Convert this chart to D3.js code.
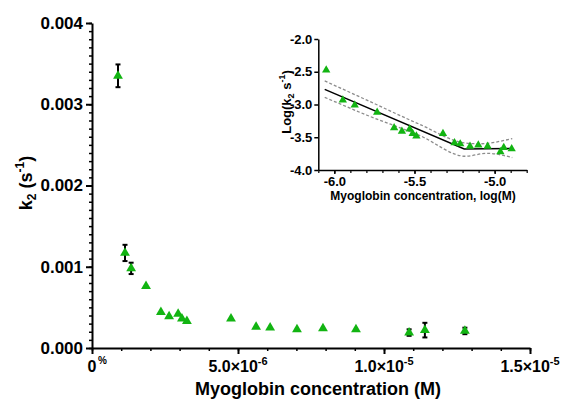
<!DOCTYPE html>
<html>
<head>
<meta charset="utf-8">
<script src="https://cdn.jsdelivr.net/npm/d3@7"></script>
<style>
  body { margin: 0; background: #fff; }
  svg { display: block; font-family: "Liberation Sans", Arial, sans-serif; font-weight: bold; }
</style>
</head>
<body>
<div id="container"></div>
<script>
// data
const concM = [0.89e-6, 1.13e-6, 1.34e-6, 1.85e-6, 2.36e-6, 2.64e-6, 2.95e-6, 3.08e-6, 3.25e-6,
               4.76e-6, 5.62e-6, 6.10e-6, 7.02e-6, 7.91e-6, 9.04e-6, 10.86e-6, 11.40e-6, 12.77e-6];
const k2 = [0.00335, 0.00117, 0.00098, 0.00076, 0.00044, 0.00039, 0.00042, 0.00036, 0.00033,
            0.00036, 0.00026, 0.00025, 0.00023, 0.00024, 0.00023, 0.00019, 0.00022, 0.00021];
const k2Err = [0.00014, 0.0001, 0.00007, 0, 0, 0, 0, 0, 0,
               0, 0, 0, 0, 0, 0, 0.00004, 0.00009, 0.00004];

const yTicks = [0, 0.001, 0.002, 0.003, 0.004];
const yTickLabels = ["0.000", "0.001", "0.002", "0.003", "0.004"];
const xTicks = [0, 5e-6, 1e-5, 1.5e-5];
const xTickLabels = [["0", "%"], ["5.0×10", "-6"], ["1.0×10", "-5"], ["1.5×10", "-5"]];

// inset: segmented fit and its confidence band (log units)
const fitX = [-6.06, -5.19, -4.89];
const fitY = [-2.77, -3.68, -3.67];
const bandUpper = [[-6.06, -2.64], [-5.8, -2.93], [-5.47, -3.30], [-5.19, -3.585], [-5.1, -3.60], [-4.89, -3.52]];
const bandLower = [[-6.06, -2.89], [-5.8, -3.16], [-5.47, -3.47], [-5.18, -3.79], [-5.05, -3.745], [-4.89, -3.81]];
const insetYTicks = [-2.0, -2.5, -3.0, -3.5, -4.0];
const insetXTicks = [-6.0, -5.5, -5.0];

const width = 564, height = 401;
const green = "#12b412";

const svg = d3.select("#container").append("svg")
  .attr("width", width).attr("height", height);

// ---- main chart ----
const x = d3.scaleLinear().domain([0, 1.5e-5]).range([92, 530]);
const y = d3.scaleLinear().domain([0, 0.004]).range([348, 23]);

const main = svg.append("g");

// y axis
const yAxis = main.append("g").attr("transform", "translate(92,0)")
  .call(d3.axisLeft(y).tickValues(d3.range(0, 41).map(i => i * 0.0001)).tickSize(3).tickFormat(""));
yAxis.call(g => g.select(".domain").remove());
yAxis.selectAll(".tick line").attr("stroke-width", 1.5);
main.append("g").attr("transform", "translate(92,0)")
  .call(d3.axisLeft(y).tickValues(yTicks).tickSize(6).tickSizeOuter(0).tickPadding(3)
    .tickFormat((d, i) => yTickLabels[i]))
  .call(g => {
    g.select(".domain").attr("stroke-width", 2);
    g.selectAll(".tick line").attr("stroke-width", 2);
    g.selectAll(".tick text").attr("font-size", 17).attr("fill", "#000").attr("font-family", null);
  });

// x axis
const xAxis = main.append("g").attr("transform", "translate(0,348)")
  .call(d3.axisBottom(x).tickValues(d3.range(0, 16).map(i => i * 1e-6)).tickSize(3).tickFormat(""));
xAxis.call(g => g.select(".domain").remove());
xAxis.selectAll(".tick line").attr("stroke-width", 1.5);
main.append("g").attr("transform", "translate(0,348)")
  .call(d3.axisBottom(x).tickValues(xTicks).tickSize(6).tickSizeOuter(0).tickFormat(""))
  .call(g => {
    g.select(".domain").attr("stroke-width", 2);
    g.selectAll(".tick line").attr("stroke-width", 2);
  });

xTicks.forEach((v, i) => {
  const t = main.append("text")
    .attr("x", x(v)).attr("y", 372)
    .attr("text-anchor", "middle")
    .attr("font-size", 16);
  if (i === 0) {
    t.text(xTickLabels[i][0]);
    main.append("text").attr("x", x(v) + 6).attr("y", 364)
      .attr("font-size", 10).text(xTickLabels[i][1]);
  } else {
    t.append("tspan").text(xTickLabels[i][0]);
    t.append("tspan").attr("dy", -7).attr("font-size", 11).text(xTickLabels[i][1]);
  }
});

// axis titles
main.append("text")
  .attr("x", 318).attr("y", 395)
  .attr("text-anchor", "middle").attr("font-size", 18)
  .text("Myoglobin concentration (M)");

const yTitle = main.append("text")
  .attr("transform", "translate(32,183) rotate(-90)")
  .attr("text-anchor", "middle").attr("font-size", 18);
yTitle.append("tspan").text("k");
yTitle.append("tspan").attr("font-size", 12).attr("dy", 4).text("2");
yTitle.append("tspan").attr("dy", -4).text(" (s");
yTitle.append("tspan").attr("font-size", 12).attr("dy", -8).text("-1");
yTitle.append("tspan").attr("dy", 8).text(")");

// error bars
const pts = concM.map((c, i) => ({ c, k: k2[i], e: k2Err[i] }));
const eb = main.append("g").selectAll("g").data(pts.filter(d => d.e > 0)).enter().append("g")
  .attr("stroke", "#000").attr("stroke-width", 2);
eb.append("line")
  .attr("x1", d => x(d.c)).attr("x2", d => x(d.c))
  .attr("y1", d => y(d.k + d.e)).attr("y2", d => y(d.k - d.e));
eb.append("line")
  .attr("x1", d => x(d.c) - 2.5).attr("x2", d => x(d.c) + 2.5)
  .attr("y1", d => y(d.k + d.e)).attr("y2", d => y(d.k + d.e));
eb.append("line")
  .attr("x1", d => x(d.c) - 2.5).attr("x2", d => x(d.c) + 2.5)
  .attr("y1", d => y(d.k - d.e)).attr("y2", d => y(d.k - d.e));

const tri = d3.symbol().type(d3.symbolTriangle).size(42);
main.append("g").selectAll("path").data(pts).enter().append("path")
  .attr("d", tri)
  .attr("transform", d => `translate(${x(d.c)},${y(d.k)})`)
  .attr("fill", green);

// ---- inset ----
const ix = d3.scaleLinear().domain([-6.1, -4.8]).range([318.3, 526.7]);
const iy = d3.scaleLinear().domain([-4, -2]).range([170, 39]);
const inset = svg.append("g");

inset.append("g").attr("transform", "translate(318.3,0)")
  .call(d3.axisLeft(iy).tickValues(insetYTicks).tickSize(4).tickSizeOuter(0).tickPadding(2)
    .tickFormat(d3.format(".1f")))
  .call(g => {
    g.select(".domain").attr("stroke-width", 1.5);
    g.selectAll(".tick line").attr("stroke-width", 1.5);
    g.selectAll(".tick text").attr("font-size", 13).attr("fill", "#000").attr("font-family", null)
      .text(d => d3.format(".1f")(d).replace("−", "-"));
  });

inset.append("g").attr("transform", "translate(0,170)")
  .call(d3.axisBottom(ix).tickValues(d3.range(0, 14).map(i => -6.1 + i * 0.1)).tickSize(3).tickSizeOuter(0).tickFormat(""))
  .call(g => {
    g.select(".domain").attr("stroke-width", 1.5);
    g.selectAll(".tick line").attr("stroke-width", 1.2);
  });
inset.append("g").attr("transform", "translate(0,170)")
  .call(d3.axisBottom(ix).tickValues(insetXTicks).tickSize(4).tickSizeOuter(0).tickPadding(3)
    .tickFormat(d => d3.format(".1f")(d).replace("−", "-")))
  .call(g => {
    g.select(".domain").remove();
    g.selectAll(".tick line").attr("stroke-width", 1.5);
    g.selectAll(".tick text").attr("font-size", 13).attr("fill", "#000").attr("font-family", null);
  });

inset.append("text")
  .attr("x", 423).attr("y", 200)
  .attr("text-anchor", "middle").attr("font-size", 12)
  .text("Myoglobin concentration, log(M)");

const iyTitle = inset.append("text")
  .attr("transform", "translate(291,102) rotate(-90)")
  .attr("text-anchor", "middle").attr("font-size", 13);
iyTitle.append("tspan").text("Log(k");
iyTitle.append("tspan").attr("font-size", 9).attr("dy", 3).text("2");
iyTitle.append("tspan").attr("dy", -3).text(" s");
iyTitle.append("tspan").attr("font-size", 9).attr("dy", -6).text("-1");
iyTitle.append("tspan").attr("dy", 6).text(")");

// band and fit
const bandLine = d3.line().x(d => ix(d[0])).y(d => iy(d[1])).curve(d3.curveMonotoneX);
[bandUpper, bandLower].forEach(b => {
  inset.append("path").attr("d", bandLine(b))
    .attr("fill", "none").attr("stroke", "#8c8c8c").attr("stroke-width", 1.3)
    .attr("stroke-dasharray", "3,2");
});
inset.append("path")
  .attr("d", d3.line().x(d => ix(d[0])).y(d => iy(d[1]))(fitX.map((v, i) => [v, fitY[i]])))
  .attr("fill", "none").attr("stroke", "#000").attr("stroke-width", 1.5);

const triSmall = d3.symbol().type(d3.symbolTriangle).size(30);
inset.append("g").selectAll("path").data(pts).enter().append("path")
  .attr("d", triSmall)
  .attr("transform", d => `translate(${ix(Math.log10(d.c))},${iy(Math.log10(d.k))})`)
  .attr("fill", green);
</script>
</body>
</html>
